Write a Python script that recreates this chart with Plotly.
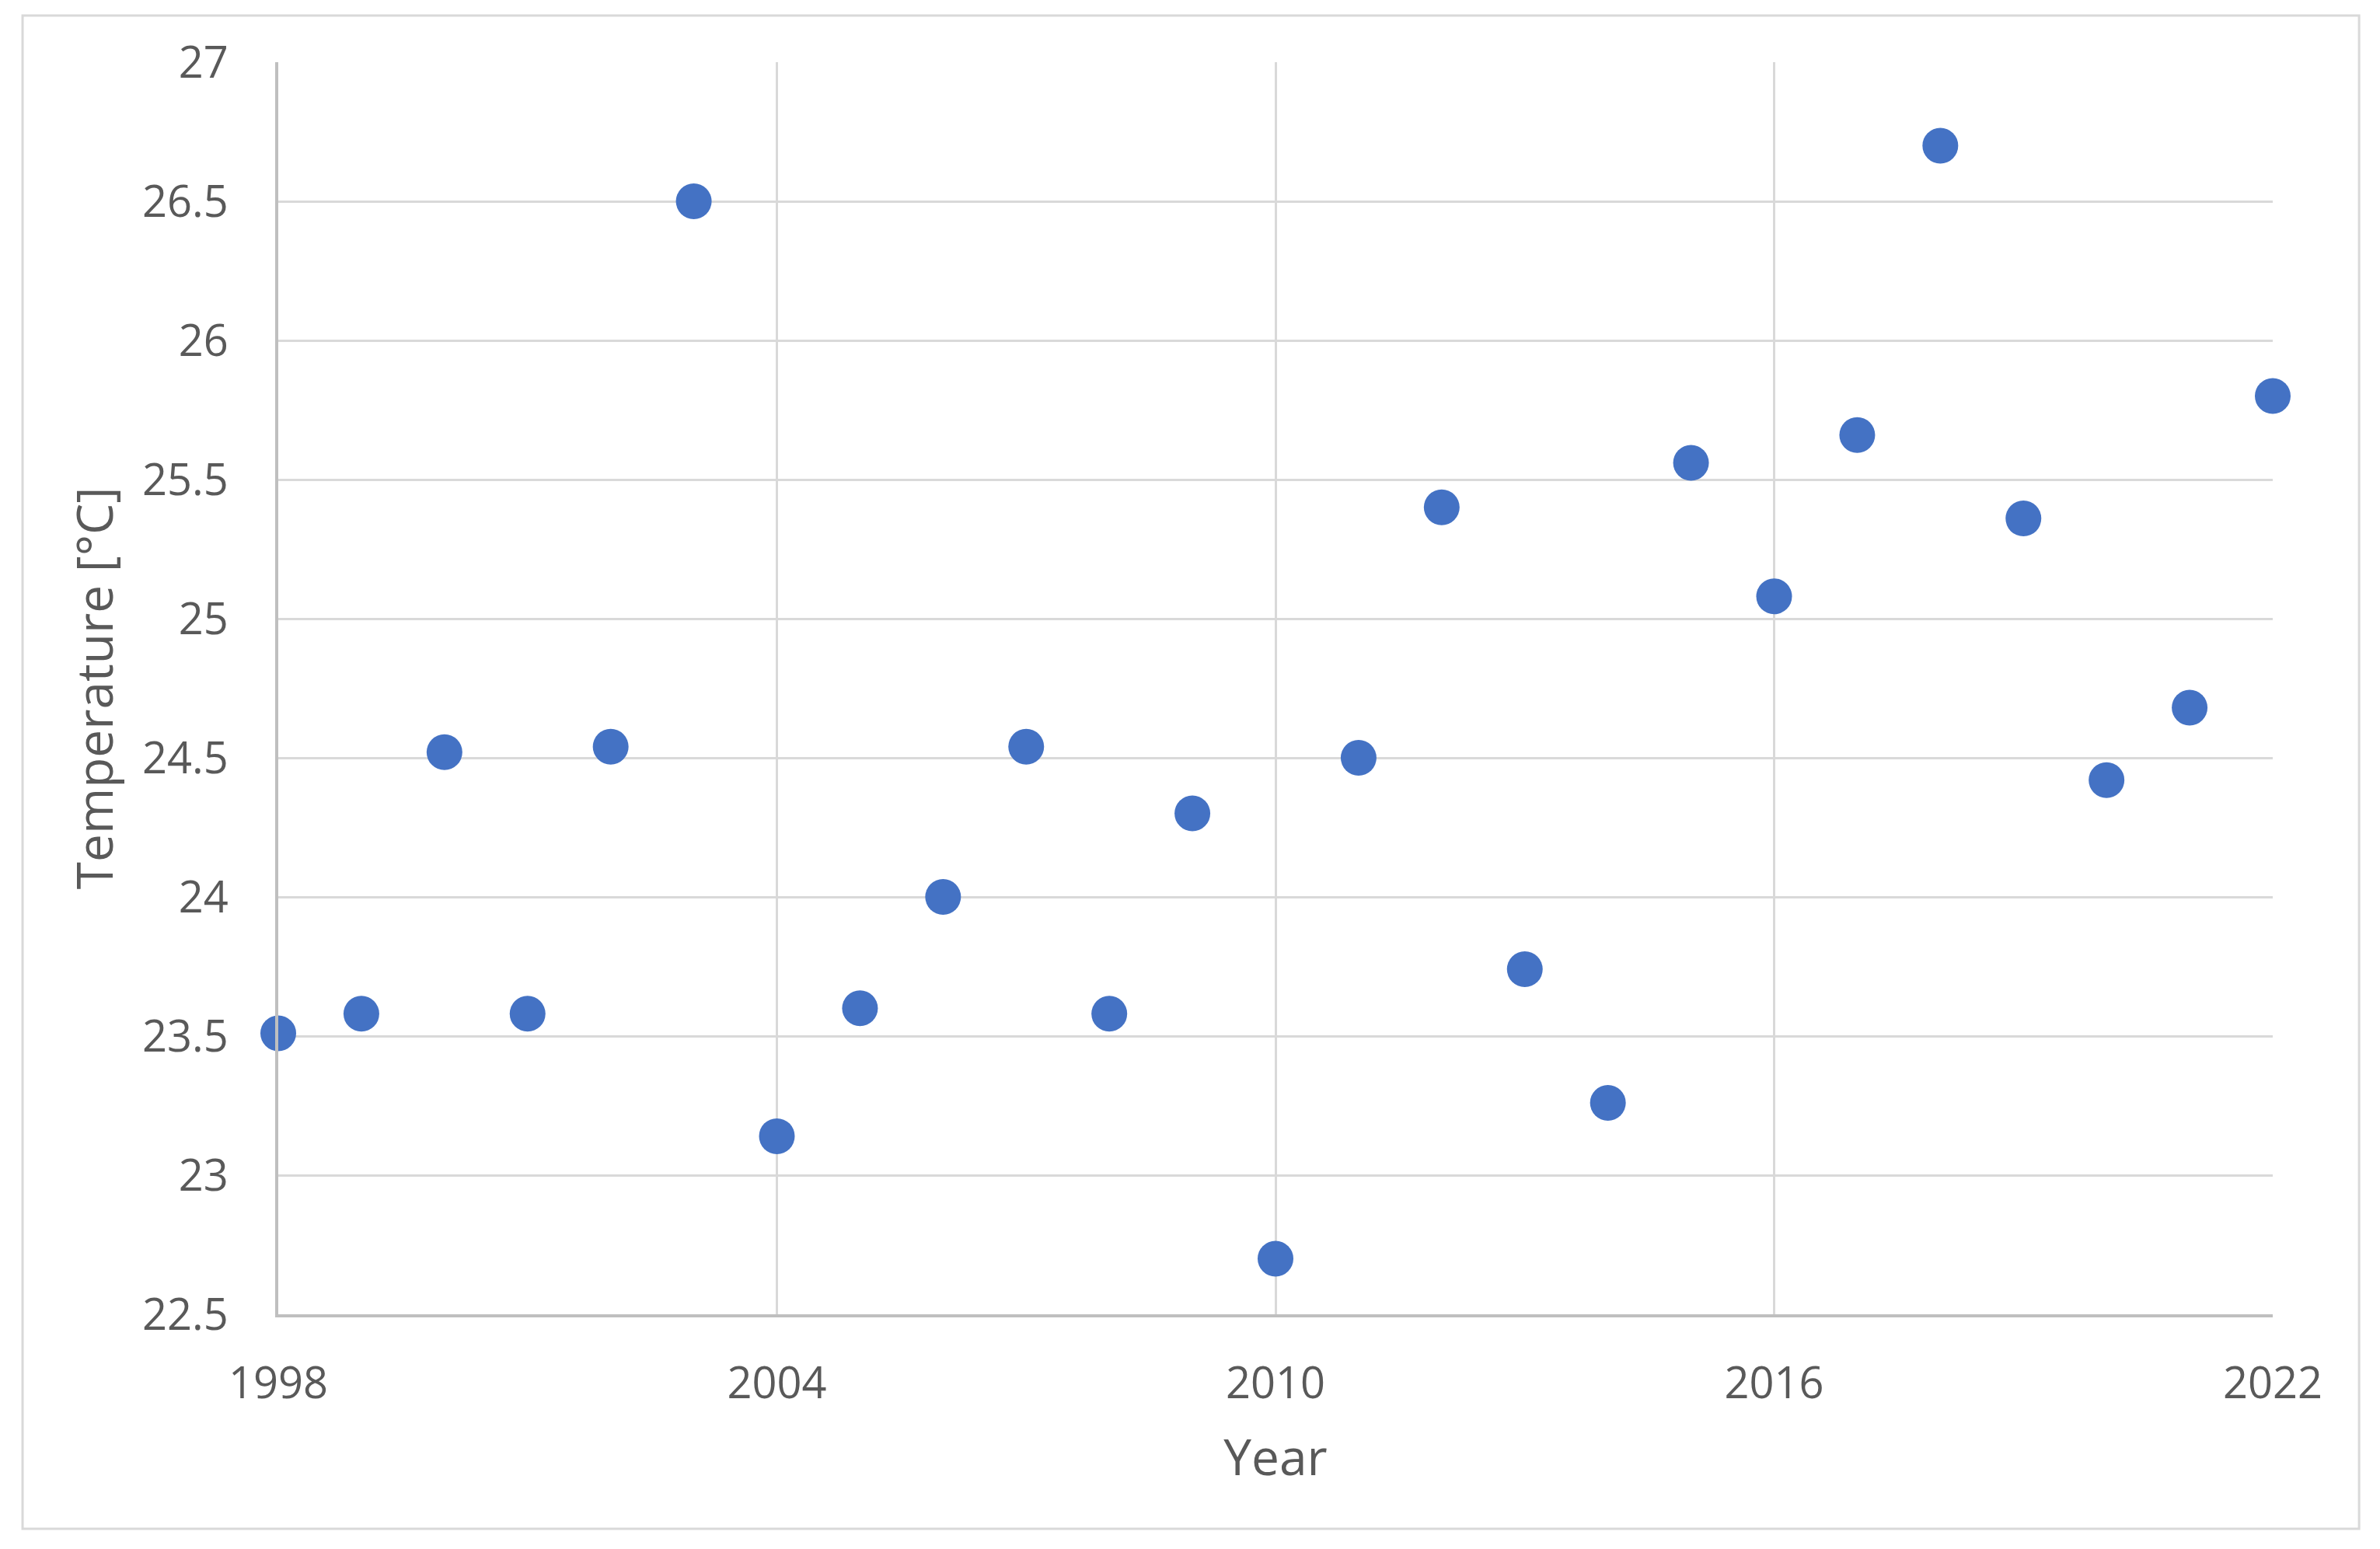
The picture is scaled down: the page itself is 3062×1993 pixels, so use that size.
import plotly.graph_objects as go

years = list(range(1998, 2023))
temps = [23.51, 23.58, 24.52, 23.58, 24.54, 26.50, 23.14, 23.60, 24.00, 24.54,
         23.58, 24.30, 22.70, 24.50, 25.40, 23.74, 23.26, 25.56, 25.08, 25.66,
         26.70, 25.36, 24.42, 24.68, 25.80]
x_ticks = [1998, 2004, 2010, 2016, 2022]
y_ticks = [22.5, 23, 23.5, 24, 24.5, 25, 25.5, 26, 26.5, 27]

FONT = "Open Sans"
TXT = "#595959"

fig = go.Figure(go.Scatter(
    x=years, y=temps, mode="markers",
    marker=dict(size=46, color="#4472C4", line=dict(width=0)),
    cliponaxis=False,
))

fig.update_layout(
    width=3062, height=1993,
    margin=dict(l=358, r=138, t=80, b=302),
    paper_bgcolor="white", plot_bgcolor="white",
    font=dict(family=FONT, color=TXT),
    showlegend=False,
    shapes=[dict(type="rect", xref="paper", yref="paper",
                 x0=-0.1282, x1=1.0433, y0=-0.1713, y1=1.0372,
                 line=dict(color="#d9d9d9", width=3), fillcolor="rgba(0,0,0,0)",
                 layer="below")],
)

fig.update_xaxes(
    range=[1998, 2022], tickvals=x_ticks, ticktext=[str(v) for v in x_ticks],
    showgrid=True, gridcolor="#d9d9d9", gridwidth=3,
    showline=True, linecolor="#bfbfbf", linewidth=4,
    zeroline=False, ticks="", ticklabelstandoff=37, automargin=False,
    tickfont=dict(size=56, family=FONT, color=TXT),
    title=dict(text="Year", font=dict(size=64, family=FONT, color=TXT), standoff=40),
)
fig.update_yaxes(
    range=[22.5, 27], tickvals=y_ticks, ticktext=[f"{v:g}" for v in y_ticks],
    showgrid=True, gridcolor="#d9d9d9", gridwidth=3,
    showline=True, linecolor="#bfbfbf", linewidth=4,
    zeroline=False, ticks="", ticklabelstandoff=49, automargin=False,
    tickfont=dict(size=56, family=FONT, color=TXT),
    title=dict(text="Temperature [°C]", font=dict(size=64, family=FONT, color=TXT), standoff=18),
)

fig.write_html("out.html", config={"displayModeBar": False},
               post_script="document.body.style.margin='0px';")
